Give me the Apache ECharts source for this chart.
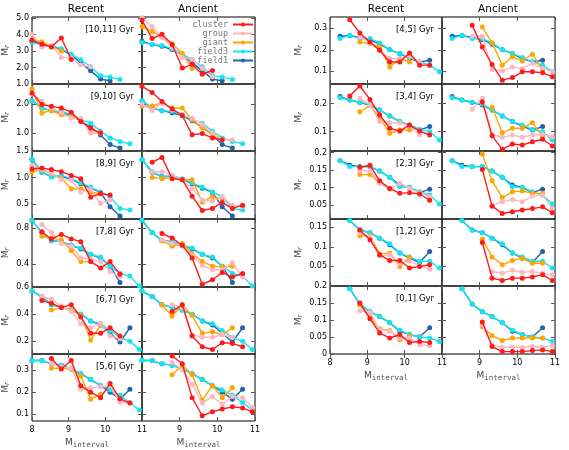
<!DOCTYPE html>
<html>
<head>
<meta charset="utf-8">
<script src="https://cdn.jsdelivr.net/npm/echarts@6/dist/echarts.min.js"></script>
<style>
html, body { margin: 0; padding: 0; background: #fff; }
#chart { width: 569px; height: 450px; }
</style>
</head>
<body>
<div id="chart"></div>
<script>
var _ = null;
// bin centres on the x axis (M_interval)
var X = [8.0, 8.27, 8.53, 8.8, 9.07, 9.33, 9.6, 9.87, 10.13, 10.4, 10.67, 10.93];
var NAMES = ['cluster', 'group', 'giant', 'field3', 'field1'];
var BINS_LEFT = ['[10,11] Gyr', '[9,10] Gyr', '[8,9] Gyr', '[7,8] Gyr', '[6,7] Gyr', '[5,6] Gyr'];
var BINS_RIGHT = ['[4,5] Gyr', '[3,4] Gyr', '[2,3] Gyr', '[1,2] Gyr', '[0,1] Gyr'];

// field samples are the same in the recent and ancient panels
// recent_* / ancient_* hold [cluster, group, giant]

// [10,11] Gyr
var field3_10_11 = [3.52, 3.4, 3.35, 3.15, 2.82, 2.48, 2.05, 1.5, 1.42, 1.28, _, _];
var field1_10_11 = [3.6, 3.4, 3.3, 3.1, 2.75, 2.3, 1.8, 1.3, 1.2, _, _, _];
var recent_10_11 = [
  [3.67, 3.42, 3.26, 3.8, 2.49, _, _, _, _, _, _, _],
  [4.03, 3.25, 3.35, 2.62, 2.6, 2.15, 2.05, _, _, _, _, _],
  [3.7, 3.57, 3.3, 3.0, _, _, _, _, _, _, _, _]
];
var ancient_10_11 = [
  [4.88, 3.77, 4.03, 3.4, 1.97, 2.2, 1.6, 1.82, _, _, _, _],
  [5.04, 4.5, 3.82, 3.26, 2.62, 2.5, 1.95, 1.44, _, _, _, _],
  [4.5, 4.2, 3.87, 3.45, 2.85, 1.95, _, _, _, _, _, _]
];

// [9,10] Gyr
var field3_9_10 = [2.11, 1.86, 1.77, 1.75, 1.63, 1.46, 1.34, 1.06, 0.83, 0.71, 0.63, _];
var field1_9_10 = [2.11, 1.86, 1.77, 1.7, 1.6, 1.42, 1.2, 0.93, 0.6, 0.48, _, _];
var recent_9_10 = [
  [2.38, 1.98, 1.92, 1.86, 1.72, 1.4, 1.17, 1.0, _, _, _, _],
  [2.35, 2.1, 1.85, 1.7, 1.52, 1.5, 1.0, 1.0, _, _, _, _],
  [2.52, 1.69, 1.78, 1.63, 1.57, 1.46, 1.11, 1.0, _, _, _, _]
];
var ancient_9_10 = [
  [2.61, 2.4, 2.09, 1.83, 1.6, 0.94, 0.98, 0.83, 0.77, _, _, _],
  [1.98, 1.78, 2.03, 1.8, 1.63, 1.52, 1.29, 1.0, 0.77, 0.77, _, _],
  [1.92, 1.94, 2.03, 1.86, 1.86, 1.46, 1.17, 0.94, 0.77, _, _, _]
];

// [8,9] Gyr
var field3_8_9 = [1.34, 1.11, 1.01, 1.04, 0.98, 0.9, 0.82, 0.73, 0.64, 0.42, 0.39, _];
var field1_8_9 = [1.34, 1.1, 1.02, 1.02, 0.97, 0.88, 0.8, 0.72, 0.45, 0.275, _, _];
var recent_8_9 = [
  [1.16, 1.18, 1.15, 1.11, 1.04, 0.98, 0.63, 0.7, 0.67, _, _, _],
  [1.23, 1.15, 1.08, 0.96, 0.95, 0.73, 0.78, 0.51, 0.58, _, _, _],
  [1.11, 1.15, 1.08, 0.98, 0.79, 0.79, 0.73, 0.69, _, _, _, _]
];
var ancient_8_9 = [
  [_, 1.29, 1.38, 0.98, 0.96, 0.65, 0.38, 0.42, 0.53, 0.42, 0.48, _],
  [_, 1.11, 1.11, 1.04, 0.95, 0.79, 0.58, 0.56, 0.64, 0.48, 0.45, _],
  [_, 1.0, 0.98, 1.0, 0.96, 0.96, 0.54, 0.64, 0.6, _, _, _]
];

// [7,8] Gyr
var field3_7_8 = [0.885, 0.75, 0.66, 0.65, 0.61, 0.58, 0.51, 0.48, 0.38, 0.3, 0.27, 0.16];
var field1_7_8 = [0.885, 0.75, 0.66, 0.65, 0.61, 0.57, 0.51, 0.47, 0.38, 0.2, _, _];
var recent_7_8 = [
  [_, 0.76, 0.68, 0.73, 0.68, 0.65, 0.43, 0.36, 0.43, 0.29, _, _],
  [_, 0.84, 0.75, 0.63, 0.6, 0.47, 0.46, 0.43, 0.32, 0.26, _, _],
  [_, 0.71, 0.69, 0.67, 0.55, 0.43, 0.43, _, _, _, _, _]
];
var ancient_7_8 = [
  [_, _, 0.74, 0.69, 0.61, 0.47, 0.18, 0.23, 0.31, 0.26, 0.3, _],
  [_, _, 0.67, 0.63, 0.6, 0.5, 0.39, 0.34, 0.34, 0.42, 0.26, _],
  [_, _, 0.66, 0.6, 0.63, 0.52, 0.43, 0.38, 0.37, 0.38, _, _]
];

// [6,7] Gyr
var field3_6_7 = [0.57, 0.53, 0.47, 0.45, 0.43, 0.4, 0.35, 0.33, 0.28, 0.23, 0.2, 0.14];
var field1_6_7 = [0.57, 0.53, 0.47, 0.45, 0.43, 0.4, 0.35, 0.32, 0.26, 0.195, 0.3, _];
var recent_6_7 = [
  [_, 0.5, 0.48, 0.45, 0.47, 0.38, 0.26, 0.26, 0.3, 0.24, _, _],
  [_, 0.53, 0.51, 0.46, 0.42, 0.33, 0.3, 0.33, 0.24, 0.22, _, _],
  [_, _, 0.43, 0.45, 0.43, 0.39, 0.21, 0.32, _, _, _, _]
];
var ancient_6_7 = [
  [_, _, _, 0.42, 0.47, 0.24, 0.16, 0.14, 0.19, 0.185, 0.16, _],
  [_, _, _, 0.47, 0.45, 0.25, 0.23, 0.23, 0.25, 0.23, _, _],
  [_, _, 0.47, 0.385, 0.47, 0.39, 0.26, 0.27, 0.25, 0.3, _, _]
];

// [5,6] Gyr
var field3_5_6 = [0.345, 0.345, 0.33, 0.324, 0.306, 0.285, 0.258, 0.23, 0.21, 0.186, 0.153, 0.118];
var field1_5_6 = [0.345, 0.345, 0.33, 0.324, 0.306, 0.285, 0.258, 0.23, 0.2, 0.168, 0.213, _];
var recent_5_6 = [
  [_, _, 0.354, 0.306, 0.345, 0.23, 0.2, 0.175, 0.24, 0.17, 0.15, _],
  [_, _, 0.333, 0.315, 0.31, 0.213, 0.22, 0.225, 0.23, 0.155, 0.15, _],
  [_, _, 0.31, 0.31, 0.306, 0.273, 0.168, 0.19, _, _, _, _]
];
var ancient_5_6 = [
  [_, _, _, 0.366, 0.33, 0.175, 0.092, 0.11, 0.123, 0.133, 0.128, 0.11],
  [_, _, _, 0.336, 0.303, 0.235, 0.15, 0.18, 0.145, 0.18, 0.175, 0.13],
  [_, _, _, 0.28, 0.325, 0.28, 0.165, 0.23, 0.175, 0.22, _, _]
];

// [4,5] Gyr
var field3_4_5 = [_, 0.252, 0.267, 0.252, 0.252, 0.232, 0.2, 0.182, 0.164, 0.143, 0.128, 0.097];
var field1_4_5 = [_, 0.263, 0.267, 0.257, 0.247, 0.226, 0.2, 0.182, 0.159, 0.143, 0.151, _];
var recent_4_5 = [
  [_, _, 0.34, 0.278, 0.236, 0.198, 0.143, 0.143, 0.185, 0.128, 0.128, _],
  [_, _, _, 0.26, 0.232, 0.198, 0.159, 0.159, 0.17, 0.143, _, _],
  [_, _, _, 0.236, 0.229, 0.213, 0.12, 0.159, 0.143, _, _, _]
];
var ancient_4_5 = [
  [_, _, _, 0.314, 0.213, 0.131, 0.058, 0.07, 0.097, 0.097, 0.092, 0.074],
  [_, _, _, 0.263, 0.262, 0.108, 0.102, 0.12, 0.112, 0.136, 0.112, 0.097],
  [_, _, _, _, 0.306, 0.232, 0.128, 0.167, 0.148, 0.179, 0.105, _]
];

// [3,4] Gyr
var field3_3_4 = [_, 0.221, 0.213, 0.204, 0.199, 0.177, 0.156, 0.136, 0.124, 0.108, 0.1, 0.07];
var field1_3_4 = [_, 0.225, 0.213, 0.204, 0.195, 0.177, 0.156, 0.136, 0.12, 0.106, 0.118, _];
var recent_3_4 = [
  [_, _, 0.227, 0.263, 0.215, 0.16, 0.112, 0.102, 0.124, 0.102, 0.088, _],
  [_, _, _, 0.219, 0.195, 0.136, 0.132, 0.132, 0.12, 0.088, _, _],
  [_, _, _, 0.171, 0.192, 0.151, 0.094, 0.106, 0.106, _, _, _]
];
var ancient_3_4 = [
  [_, _, _, _, 0.207, 0.085, 0.037, 0.056, 0.052, 0.064, 0.073, 0.049],
  [_, _, _, 0.18, 0.219, 0.09, 0.08, 0.088, 0.08, 0.088, 0.09, 0.082],
  [_, _, _, _, _, 0.187, 0.096, 0.112, 0.112, 0.132, 0.082, _]
];

// [2,3] Gyr
var field3_2_3 = [_, 0.177, 0.16, 0.16, 0.16, 0.147, 0.129, 0.102, 0.1, 0.0875, 0.078, 0.052];
var field1_2_3 = [_, 0.177, 0.164, 0.16, 0.16, 0.147, 0.129, 0.107, 0.1, 0.085, 0.095, _];
var recent_2_3 = [
  [_, _, _, 0.158, 0.164, 0.119, 0.097, 0.083, 0.085, 0.081, 0.063, _],
  [_, _, _, 0.148, 0.148, 0.113, 0.094, 0.112, 0.097, 0.085, 0.073, _],
  [_, _, _, 0.137, 0.137, 0.113, 0.097, _, _, _, _, _]
];
var ancient_2_3 = [
  [_, _, _, _, 0.152, 0.046, 0.025, 0.03, 0.035, 0.039, 0.044, 0.027],
  [_, _, _, _, _, 0.048, 0.059, 0.065, 0.059, 0.075, 0.078, 0.039],
  [_, _, _, _, 0.196, 0.119, 0.071, 0.0875, 0.09, 0.083, 0.083, _]
];

// [1,2] Gyr
var field3_1_2 = [_, _, 0.167, 0.142, 0.136, 0.122, 0.108, 0.084, 0.074, 0.063, 0.063, 0.046];
var field1_1_2 = [_, _, 0.167, 0.143, 0.136, 0.122, 0.105, 0.084, 0.071, 0.06, 0.088, _];
var recent_1_2 = [
  [_, _, _, 0.143, 0.118, 0.08, 0.065, 0.065, 0.046, 0.05, 0.054, _],
  [_, _, _, 0.135, 0.126, 0.077, 0.08, 0.058, 0.063, 0.052, 0.043, _],
  [_, _, _, 0.128, 0.128, 0.082, 0.084, 0.05, 0.074, _, _, _]
];
var ancient_1_2 = [
  [_, _, _, _, 0.111, 0.02, 0.014, 0.02, 0.02, 0.023, 0.029, 0.014],
  [_, _, _, _, _, 0.037, 0.033, 0.04, 0.035, 0.037, 0.033, 0.029],
  [_, _, _, _, 0.12, 0.074, 0.054, 0.065, 0.071, 0.058, 0.058, _]
];

// [0,1] Gyr
var field3_0_1 = [_, _, 0.192, 0.147, 0.124, 0.11, 0.092, 0.07, 0.057, 0.05, 0.047, 0.037];
var field1_0_1 = [_, _, 0.192, 0.147, 0.124, 0.11, 0.092, 0.067, 0.057, 0.05, 0.077, _];
var recent_0_1 = [
  [_, _, _, 0.15, 0.104, 0.062, 0.047, 0.057, 0.034, 0.037, 0.034, _],
  [_, _, _, 0.127, 0.122, 0.072, 0.067, 0.047, 0.047, 0.027, 0.024, _],
  [_, _, _, 0.144, 0.107, 0.074, 0.069, 0.042, 0.052, _, _, _]
];
var ancient_0_1 = [
  [_, _, _, _, 0.094, 0.022, 0.007, 0.007, 0.007, 0.01, 0.012, 0.007],
  [_, _, _, _, 0.085, 0.027, 0.02, 0.02, 0.02, 0.022, 0.02, 0.024],
  [_, _, _, _, 0.08, 0.054, 0.04, 0.047, 0.047, 0.047, 0.047, _]
];

// y ranges and tick values per row
var yLeft = [
  { min: 1.0, max: 5.08, ticks: [1, 2, 3, 4, 5] },
  { min: 0.38, max: 2.69, ticks: [1, 2] },
  { min: 0.22, max: 1.5, ticks: [0.5, 1.0, 1.5] },
  { min: 0.15, max: 0.9, ticks: [0.4, 0.8] },
  { min: 0.107, max: 0.6, ticks: [0.2, 0.4, 0.6] },
  { min: 0.068, max: 0.375, ticks: [0.1, 0.2, 0.3] }
];
var yRight = [
  { min: 0.04, max: 0.353, ticks: [0.1, 0.2, 0.3] },
  { min: 0.031, max: 0.27, ticks: [0.1, 0.2] },
  { min: 0.009, max: 0.205, ticks: [0.05, 0.1, 0.15, 0.2] },
  { min: 0.0, max: 0.171, ticks: [0.05, 0.1, 0.15] },
  { min: 0.0, max: 0.2, ticks: [0, 0.05, 0.1, 0.15, 0.2] }
];

var leftRows = [
  [recent_10_11, ancient_10_11, field3_10_11, field1_10_11],
  [recent_9_10, ancient_9_10, field3_9_10, field1_9_10],
  [recent_8_9, ancient_8_9, field3_8_9, field1_8_9],
  [recent_7_8, ancient_7_8, field3_7_8, field1_7_8],
  [recent_6_7, ancient_6_7, field3_6_7, field1_6_7],
  [recent_5_6, ancient_5_6, field3_5_6, field1_5_6]
];
var rightRows = [
  [recent_4_5, ancient_4_5, field3_4_5, field1_4_5],
  [recent_3_4, ancient_3_4, field3_3_4, field1_3_4],
  [recent_2_3, ancient_2_3, field3_2_3, field1_2_3],
  [recent_1_2, ancient_1_2, field3_1_2, field1_1_2],
  [recent_0_1, ancient_0_1, field3_0_1, field1_0_1]
];

var COLORS = { cluster: '#ff1a1a', group: '#ffb6c1', giant: '#ffa500', field3: '#16e4ee', field1: '#1f63b0' };
var FONT = 'DejaVu Sans';
var MONO = 'DejaVu Sans Mono';

var grids = [], xAxes = [], yAxes = [], series = [], graphics = [];

function pts(vals) {
  var out = [];
  for (var k = 0; k < X.length; k++) {
    if (vals[k] != null) out.push([X[k], vals[k]]);
  }
  return out;
}

function addPanel(left, top, width, height, yr, fmt, sets, ancient, bottom, yGap) {
  var gi = grids.length;
  grids.push({ left: left, top: top, width: width, height: height, show: true,
    borderColor: '#000', borderWidth: 1, backgroundColor: 'transparent' });
  var tick = { show: true, inside: true, length: 4, lineStyle: { color: '#555', width: 1 } };
  var xi = xAxes.length;
  xAxes.push({
    type: 'value', gridIndex: gi, min: 8, max: 11, interval: 1, position: 'bottom',
    axisLine: { show: false }, splitLine: { show: false }, axisTick: tick,
    axisLabel: { show: bottom, customValues: ancient ? [9, 10, 11] : [8, 9, 10, 11],
      fontSize: 8, color: '#000', fontFamily: FONT, margin: 5 },
    name: bottom ? '{m|M}{s|interval}' : '', nameLocation: 'middle', nameGap: 15,
    nameMoveOverlap: false,
    nameTextStyle: { rich: {
      m: { fontSize: 9, fontFamily: FONT, color: '#444' },
      s: { fontSize: 7.5, fontFamily: MONO, color: '#555', verticalAlign: 'bottom', padding: [5, 0, 0, 0] }
    } }
  });
  xAxes.push({
    type: 'value', gridIndex: gi, min: 8, max: 11, interval: 1, position: 'top',
    axisLine: { show: false }, splitLine: { show: false }, axisTick: tick, axisLabel: { show: false }
  });
  var yi = yAxes.length;
  var yTick = Object.assign({}, tick, { customValues: yr.ticks });
  yAxes.push({
    type: 'value', gridIndex: gi, min: yr.min, max: yr.max, position: 'left',
    axisLine: { show: false }, splitLine: { show: false }, axisTick: yTick,
    axisLabel: { show: !ancient, customValues: yr.ticks, formatter: fmt,
      fontSize: 8, color: '#000', fontFamily: FONT, margin: 3 },
    name: ancient ? '' : '{m|M}{s|r}', nameLocation: 'middle', nameRotate: 90, nameGap: yGap,
    nameMoveOverlap: false,
    nameTextStyle: { rich: {
      m: { fontSize: 9, fontFamily: FONT, color: '#444' },
      s: { fontSize: 7, fontFamily: FONT, fontStyle: 'italic', color: '#444', verticalAlign: 'bottom', padding: [4, 0, 0, 0] }
    } }
  });
  yAxes.push({
    type: 'value', gridIndex: gi, min: yr.min, max: yr.max, position: 'right',
    axisLine: { show: false }, splitLine: { show: false }, axisTick: yTick, axisLabel: { show: false }
  });
  // draw order: field1, field3, giant, group, cluster on top
  var order = [
    ['field1', sets.f1], ['field3', sets.f3],
    ['giant', sets.own[2]], ['group', sets.own[1]], ['cluster', sets.own[0]]
  ];
  order.forEach(function (o, i) {
    series.push({
      type: 'line', name: o[0], data: pts(o[1]), xAxisIndex: xi, yAxisIndex: yi,
      symbol: 'circle', symbolSize: 5, showSymbol: true, silent: true,
      color: COLORS[o[0]], lineStyle: { width: 1.4, color: COLORS[o[0]] },
      itemStyle: { color: COLORS[o[0]] }, z: 2 + i, animation: false
    });
  });
}

var fmt1 = function (v) { return v.toFixed(1); };
var fmtR = function (v) { return String(Math.round(v * 1000) / 1000); };

// left block
var lTops = [17, 84, 151, 219, 287, 354, 422];
leftRows.forEach(function (r, i) {
  var h = lTops[i + 1] - lTops[i];
  var last = i === leftRows.length - 1;
  addPanel(30, lTops[i], 112, h, yLeft[i], fmt1, { own: r[0], f3: r[2], f1: r[3] }, false, last, 21);
  addPanel(142, lTops[i], 113, h, yLeft[i], fmt1, { own: r[1], f3: r[2], f1: r[3] }, true, last, 21);
  graphics.push({ type: 'text', x: 134, y: lTops[i] + 13,
    style: { text: BINS_LEFT[i], textAlign: 'right', textVerticalAlign: 'middle', font: '8.5px "DejaVu Sans"', fill: '#000' } });
});

// right block
var rTops = [17, 84, 151, 219, 286, 354];
rightRows.forEach(function (r, i) {
  var h = rTops[i + 1] - rTops[i];
  var last = i === rightRows.length - 1;
  addPanel(330, rTops[i], 112, h, yRight[i], fmtR, { own: r[0], f3: r[2], f1: r[3] }, false, last, 26);
  addPanel(442, rTops[i], 113, h, yRight[i], fmtR, { own: r[1], f3: r[2], f1: r[3] }, true, last, 26);
  graphics.push({ type: 'text', x: 434, y: rTops[i] + 13,
    style: { text: BINS_RIGHT[i], textAlign: 'right', textVerticalAlign: 'middle', font: '8.5px "DejaVu Sans"', fill: '#000' } });
});

[['Recent', 86], ['Ancient', 198], ['Recent', 386], ['Ancient', 498]].forEach(function (t) {
  graphics.push({ type: 'text', x: t[1], y: 9,
    style: { text: t[0], textAlign: 'center', textVerticalAlign: 'middle', font: '10.5px "DejaVu Sans"', fill: '#000' } });
});

var chart = echarts.init(document.getElementById('chart'));
chart.setOption({
  animation: false,
  textStyle: { fontFamily: FONT },
  grid: grids,
  xAxis: xAxes,
  yAxis: yAxes,
  series: series,
  graphic: graphics,
  legend: {
    data: NAMES, orient: 'vertical', right: 315, top: 20, align: 'right',
    itemWidth: 20, itemHeight: 5, itemGap: 0, padding: 0, selectedMode: false,
    textStyle: { fontFamily: MONO, fontSize: 8.5, color: '#777', lineHeight: 7.8, padding: [0, 0, 0, 0] }
  }
});
</script>
</body>
</html>
